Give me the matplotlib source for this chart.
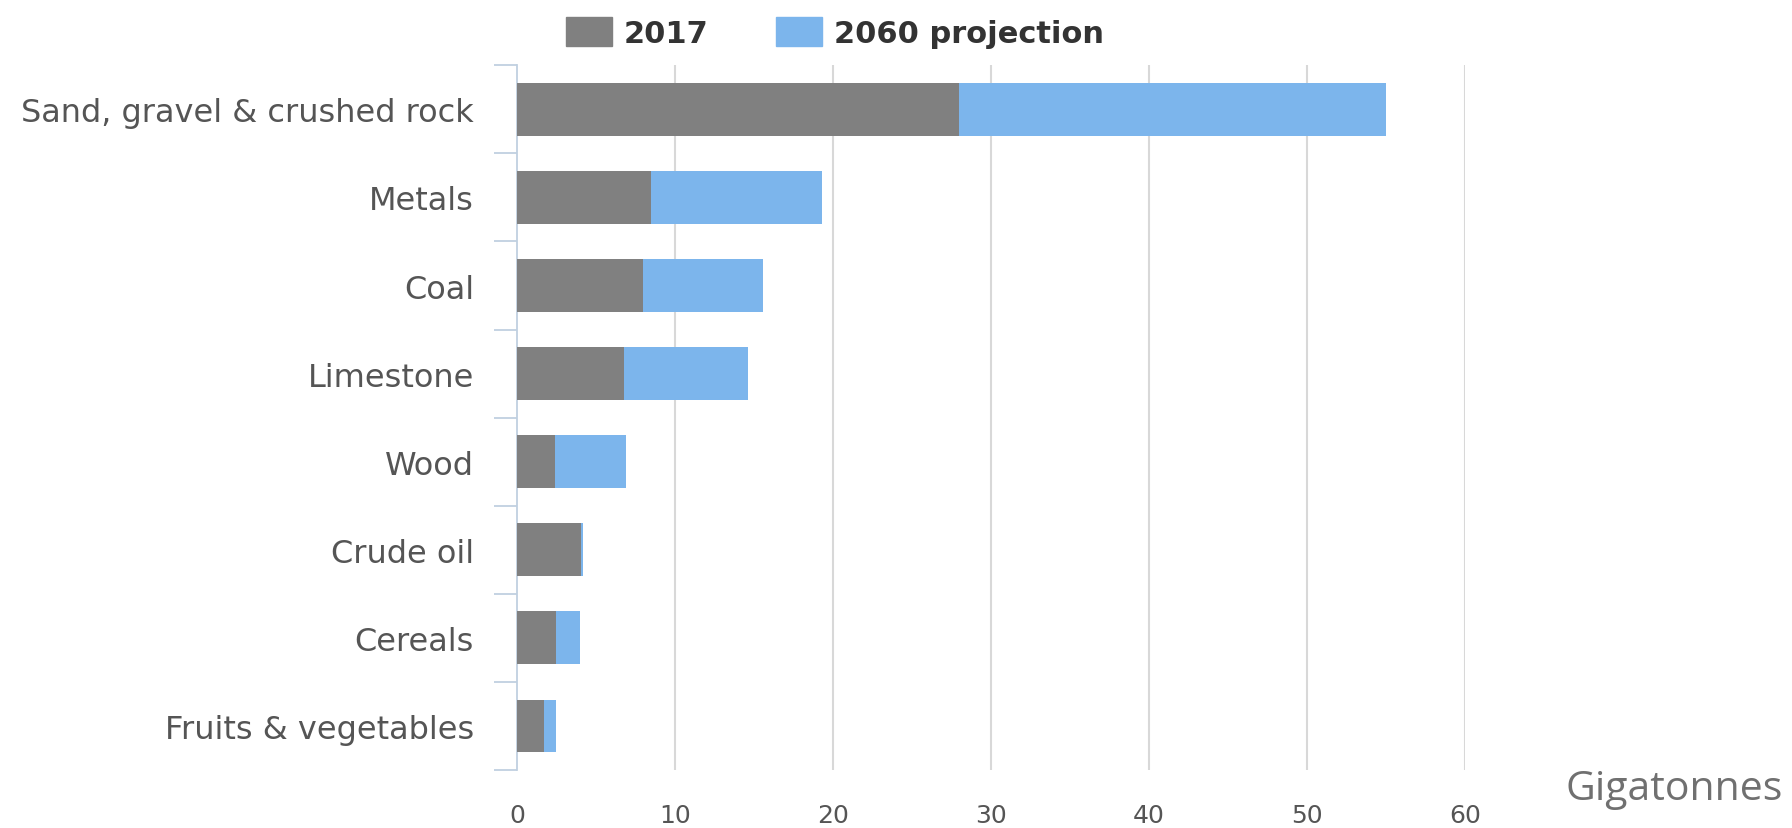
import numpy as np
import matplotlib.pyplot as plt
from matplotlib.patches import Patch

categories = ['Sand, gravel & crushed rock', 'Metals', 'Coal', 'Limestone',
              'Wood', 'Crude oil', 'Cereals', 'Fruits & vegetables']
values_2017 = [28.0, 8.5, 8.0, 6.8, 2.4, 4.05, 2.5, 1.7]
values_2060 = [55.0, 19.3, 15.6, 14.6, 6.9, 4.2, 4.0, 2.5]
xticks = [0, 10, 20, 30, 40, 50, 60]

gray = '#808080'
blue = '#7CB5EC'
axis_col = '#C0D0E0'

fig = plt.figure(figsize=(17.92, 8.29), dpi=100)
ax = fig.add_axes([0.2885, 0.070, 0.529, 0.850])

y = np.arange(len(categories))
ax.barh(y, values_2060, height=0.6, color=blue, zorder=2)
ax.barh(y, values_2017, height=0.6, color=gray, zorder=3)

ax.set_ylim(len(categories) - 0.5, -0.5)
ax.set_xlim(0, 60)
ax.set_yticks(y)
ax.set_yticklabels(categories, fontsize=23, color='#555555')
ax.set_yticks(np.arange(len(categories) + 1) - 0.5, minor=True)
ax.tick_params(axis='y', which='major', length=0, pad=31)
ax.tick_params(axis='y', which='minor', length=16.5, width=1.3, color=axis_col)

ax.set_xticks(xticks)
ax.set_xticklabels([str(t) for t in xticks], fontsize=18, color='#555555')
ax.tick_params(axis='x', length=0, pad=24)
for t in xticks[1:]:
    ax.axvline(t, color='#D8D8D8', lw=1.5, zorder=1)

for s in ['top', 'right', 'bottom']:
    ax.spines[s].set_visible(False)
ax.spines['left'].set_color(axis_col)
ax.spines['left'].set_linewidth(1.3)

handles = [Patch(color=gray, label='2017'), Patch(color=blue, label='2060 projection')]
fig.legend(handles=handles, loc='upper center', bbox_to_anchor=(0.466, 1.012), ncol=2,
           frameon=False, prop={'weight': 'bold', 'size': 22}, labelcolor='#333333',
           handlelength=1.5, handleheight=1.1, columnspacing=2.2, handletextpad=0.4)

fig.text(0.995, 0.047, 'Gigatonnes', ha='right', va='center', fontsize=29.5,
         color='#707070', family='Open Sans')

fig.savefig('out.png', dpi=100)
